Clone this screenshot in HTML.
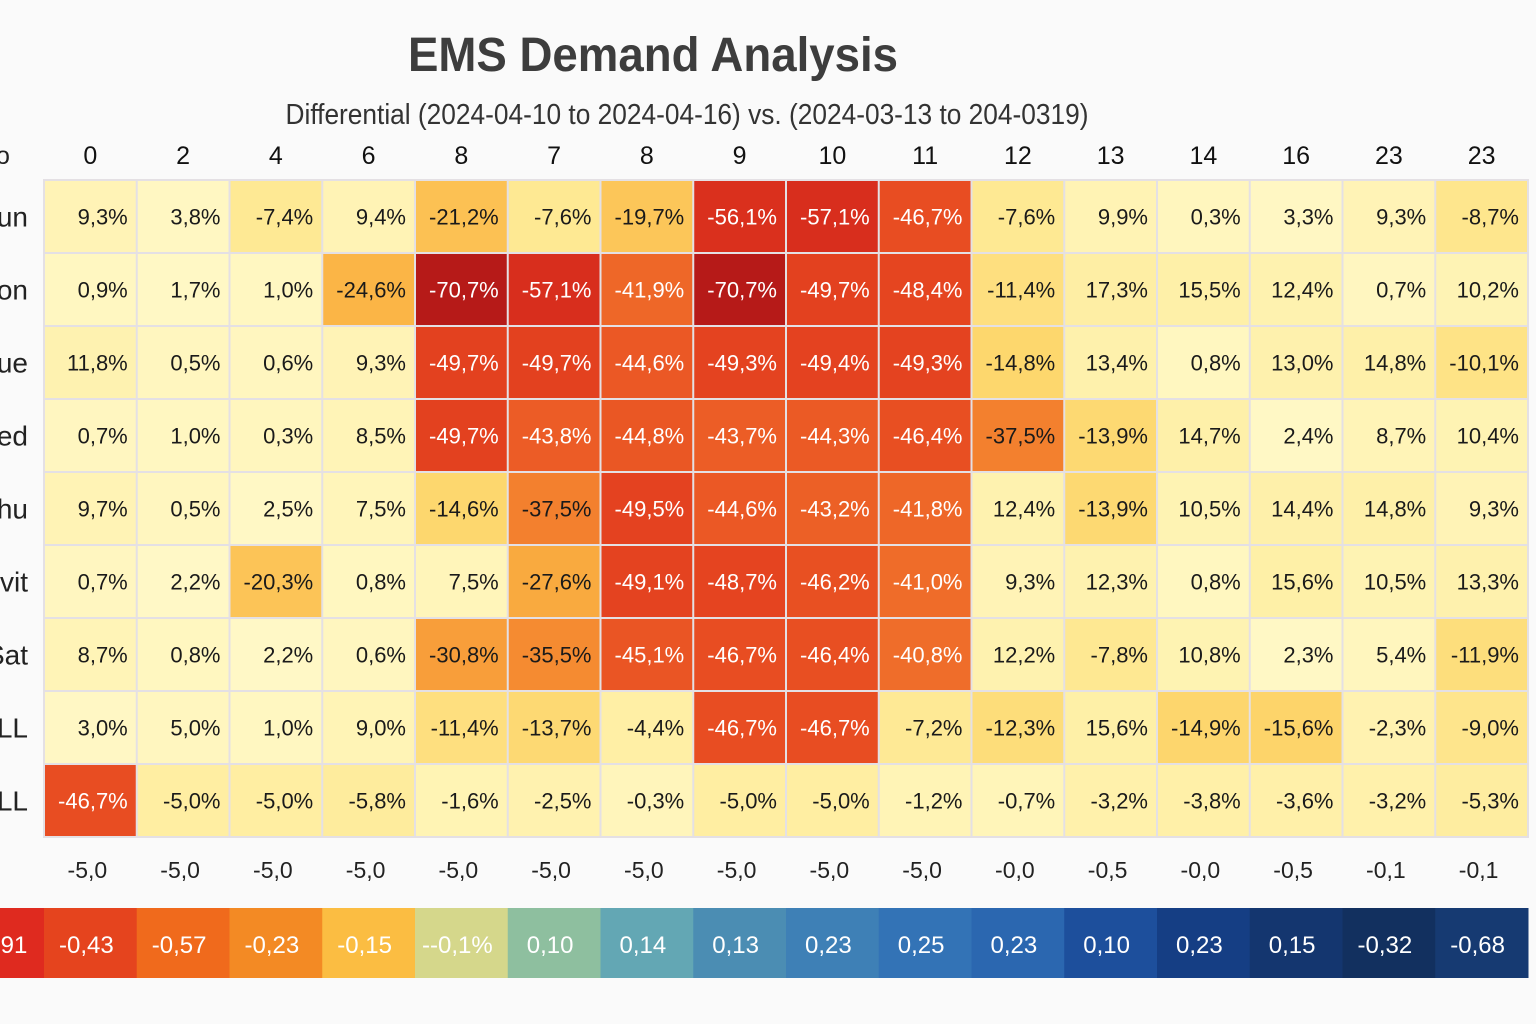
<!DOCTYPE html>
<html><head><meta charset="utf-8"><style>
html,body{margin:0;padding:0;background:#fafafa;}
svg{display:block;font-family:"Liberation Sans Narrow","Liberation Sans",sans-serif;}
</style></head><body>
<svg id="chart" width="1536" height="1024" viewBox="0 0 1536 1024" xmlns="http://www.w3.org/2000/svg">
<rect width="1536" height="1024" fill="#fafafa"/>
<text x="653" y="71" text-anchor="middle" font-size="48" font-weight="bold" fill="#3d3d3d" textLength="490" lengthAdjust="spacingAndGlyphs">EMS Demand Analysis</text>
<text x="687" y="124" text-anchor="middle" font-size="29" fill="#333" textLength="803" lengthAdjust="spacingAndGlyphs">Differential (2024-04-10 to 2024-04-16) vs. (2024-03-13 to 204-0319)</text>
<text x="-4" y="164" font-size="25" fill="#222">o</text>
<g id="grid"></g>
</svg>
<script>
const columns = ["0","2","4","6","8","7","8","9","10","11","12","13","14","16","23","23"];
const rowLabels = ["Sun","Mon","Tue","Wed","Thu","Fri-vit","Sat","ALL","ALL"];
const values = [
 [9.3,3.8,-7.4,9.4,-21.2,-7.6,-19.7,-56.1,-57.1,-46.7,-7.6,9.9,0.3,3.3,9.3,-8.7],
 [0.9,1.7,1.0,-24.6,-70.7,-57.1,-41.9,-70.7,-49.7,-48.4,-11.4,17.3,15.5,12.4,0.7,10.2],
 [11.8,0.5,0.6,9.3,-49.7,-49.7,-44.6,-49.3,-49.4,-49.3,-14.8,13.4,0.8,13.0,14.8,-10.1],
 [0.7,1.0,0.3,8.5,-49.7,-43.8,-44.8,-43.7,-44.3,-46.4,-37.5,-13.9,14.7,2.4,8.7,10.4],
 [9.7,0.5,2.5,7.5,-14.6,-37.5,-49.5,-44.6,-43.2,-41.8,12.4,-13.9,10.5,14.4,14.8,9.3],
 [0.7,2.2,-20.3,0.8,7.5,-27.6,-49.1,-48.7,-46.2,-41.0,9.3,12.3,0.8,15.6,10.5,13.3],
 [8.7,0.8,2.2,0.6,-30.8,-35.5,-45.1,-46.7,-46.4,-40.8,12.2,-7.8,10.8,2.3,5.4,-11.9],
 [3.0,5.0,1.0,9.0,-11.4,-13.7,-4.4,-46.7,-46.7,-7.2,-12.3,15.6,-14.9,-15.6,-2.3,-9.0],
 [-46.7,-5.0,-5.0,-5.8,-1.6,-2.5,-0.3,-5.0,-5.0,-1.2,-0.7,-3.2,-3.8,-3.6,-3.2,-5.3]
];
const summaryLabels = ["-5,0","-5,0","-5,0","-5,0","-5,0","-5,0","-5,0","-5,0","-5,0","-5,0","-0,0","-0,5","-0,0","-0,5","-0,1","-0,1"];
const colorbarLabels = ["91","-0,43","-0,57","-0,23","-0,15","--0,1%","0,10","0,14","0,13","0,23","0,25","0,23","0,10","0,23","0,15","-0,32","-0,68"];
const colorbarColors = ["#df2a1f","#e5441e","#f06a1c","#f38a24","#fbbd42","#d5d78b","#8ebf9f","#63a7b4","#4b8db3","#3e80b6","#3373b6","#2b67b0","#1d4f9c","#153e84","#14366f","#12305f","#163a72"];

const svg = document.getElementById('grid');
const NS = "http://www.w3.org/2000/svg";
const x0 = 44, x1 = 1528, y0 = 180, rowH = 73;
const cw = (x1 - x0) / columns.length;
const xPos = i => x0 + i * cw;
const yPos = r => y0 + r * rowH;

function lerp(a,b,t){return a.map((v,i)=>Math.round(v+(b[i]-v)*t));}
const stops = [[-72,[178,24,24]],[-60,[212,38,28]],[-48,[230,70,32]],[-42,[238,102,40]],[-35,[245,142,50]],[-25,[251,180,68]],[-15,[253,214,108]],[-8,[254,232,145]],[-2,[255,243,178]],[2,[255,248,198]],[18,[254,238,162]]];
function color(v){
  if(v<=stops[0][0]) return 'rgb('+stops[0][1]+')';
  for(let i=1;i<stops.length;i++){
    if(v<=stops[i][0]){const t=(v-stops[i-1][0])/(stops[i][0]-stops[i-1][0]);return 'rgb('+lerp(stops[i-1][1],stops[i][1],t)+')';}
  }
  return 'rgb('+stops[stops.length-1][1]+')';
}
function fmt(v){return v.toFixed(1).replace('.',',')+'%';}
function mk(tag, attrs){const e=document.createElementNS(NS,tag);for(const k in attrs)e.setAttribute(k,attrs[k]);svg.appendChild(e);return e;}

columns.forEach((c,i)=>{
  const t = mk('text',{x:xPos(i)+cw/2,y:164,'text-anchor':'middle','font-size':25,fill:'#111'});
  
  
  t.textContent = c;
});
rowLabels.forEach((r,j)=>{
  const t = mk('text',{x:28,y:yPos(j)+rowH/2+10,'text-anchor':'end','font-size':28,fill:'#222'});
  
  
  t.textContent = r;
});
mk('rect',{x:x0-1,y:y0-1,width:x1-x0+2,height:rowH*rowLabels.length+2,fill:'#e4e0e4'});
values.forEach((row,j)=>{
  row.forEach((v,i)=>{
    const r = mk('rect',{x:xPos(i)+1,y:yPos(j)+1,width:cw-2,height:rowH-2,fill:color(v)});
    
    
    const t = mk('text',{x:xPos(i)+cw-9,y:yPos(j)+rowH/2+8,'text-anchor':'end','font-size':22,fill:v<-40?'#fff':'#1a1a1a'});
    
    
    t.textContent = fmt(v);
  });
});
summaryLabels.forEach((s,i)=>{
  const t = mk('text',{x:xPos(i)+cw/2-3,y:878,'text-anchor':'middle','font-size':23,fill:'#222'});
  
  
  t.textContent = s;
});
colorbarLabels.forEach((s,k)=>{
  const i = k - 1;
  const bx = k===0 ? 0 : xPos(i);
  const bw = k===0 ? x0 : cw;
  const r = mk('rect',{x:bx,y:908,width:bw+0.5,height:70,fill:colorbarColors[k]});
  
  
  const t = mk('text',{x:k===0?14:bx+bw/2-4,y:953,'text-anchor':'middle','font-size':24,fill:'#fff'});
  
  
  t.textContent = s;
});
</script>
</body></html>
